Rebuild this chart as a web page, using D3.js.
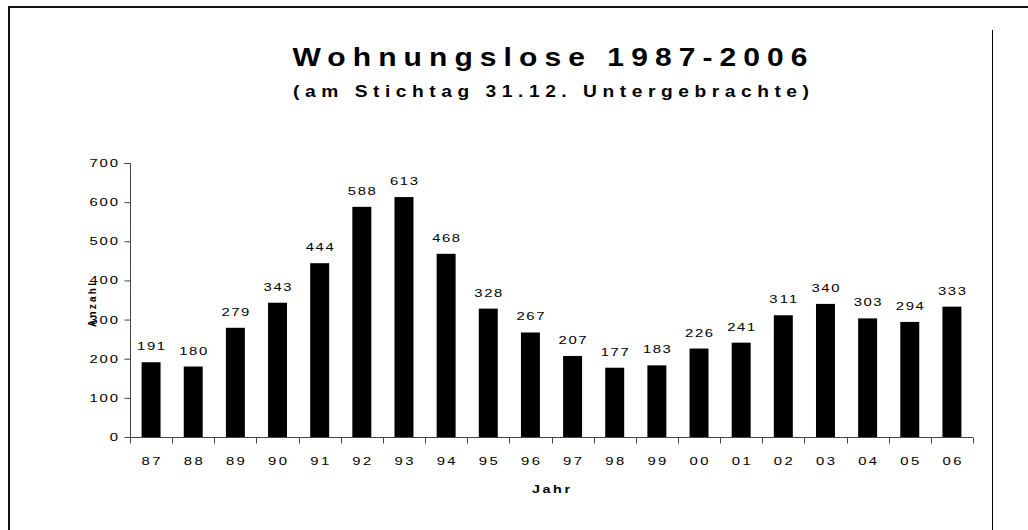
<!DOCTYPE html>
<html>
<head>
<meta charset="utf-8">
<script src="https://cdn.jsdelivr.net/npm/d3@7"></script>
<style>
  body { margin: 0; background: #fff; }
  svg text { font-family: "Liberation Sans", Arial, sans-serif; fill: #000; }
</style>
</head>
<body>
<div id="container"></div>
<script>
let w = 1028;
let h = 530;

// data
let years = ["87","88","89","90","91","92","93","94","95","96","97","98","99","00","01","02","03","04","05","06"];
let counts = [191,180,279,343,444,588,613,468,328,267,207,177,183,226,241,311,340,303,294,333];
let yTicks = [0,100,200,300,400,500,600,700];

let viz = d3.select("#container")
  .append("svg")
    .attr("width", w)
    .attr("height", h)
;

// frame
viz.append("path")
  .attr("d", "M9,530 V7 H1028")
  .attr("fill", "none")
  .attr("stroke", "#111")
  .attr("stroke-width", 2);
viz.append("line")
  .attr("x1", 992.5).attr("x2", 992.5)
  .attr("y1", 30).attr("y2", 530)
  .attr("stroke", "#000").attr("stroke-width", 1);

// scales
let xScale = d3.scaleBand().domain(years).range([130, 973]).paddingInner(0.55).paddingOuter(0.275);
let yScale = d3.scaleLinear().domain([0, 700]).range([437, 163]);

// wide, spread-out text (glyphs stretched by sx, total width len)
function wide(g, str, x, y, len, size, sx, weight, anchor){
  return g.append("text")
    .attr("transform", "translate(" + x + "," + y + ") scale(" + sx + ",1)")
    .attr("text-anchor", anchor || "middle")
    .attr("font-size", size)
    .attr("font-weight", weight || "normal")
    .attr("textLength", len / sx)
    .attr("lengthAdjust", "spacing")
    .text(str);
}

// titles
wide(viz, "Wohnungslose 1987-2006", 550, 66, 515, 25, 1.2, "bold");
wide(viz, "(am Stichtag 31.12. Untergebrachte)", 551, 97, 516, 16, 1.2, "bold");

// y axis
let yAxis = d3.axisLeft(yScale).tickValues(yTicks).tickSize(6).tickFormat("");
let yAxisGroup = viz.append("g").attr("class", "yaxis")
  .attr("transform", "translate(130.5,0)")
  .call(yAxis);
yAxisGroup.select(".domain").attr("stroke", "#444").attr("d", "M-6,163.5 H0 V437.5");
yAxisGroup.selectAll("line").attr("stroke", "#444");
yTicks.forEach(t => {
  wide(viz, String(t), 118, yScale(t) + 4, String(t).length * 9.5, 11, 1.35, "normal", "end");
});

// x axis
let xAxis = d3.axisBottom(xScale).tickSize(0).tickFormat("");
let xAxisGroup = viz.append("g").attr("class", "xaxis")
  .attr("transform", "translate(0,437.5)")
  .call(xAxis);
xAxisGroup.select(".domain").attr("stroke", "#444").attr("d", "M130,0 H973");
years.forEach(yr => {
  wide(viz, yr, xScale(yr) + xScale.bandwidth() / 2, 465, 19, 11, 1.35);
});

// ticks on band edges
let step = xScale.step();
let edges = d3.range(years.length + 1).map(i => 130 + i * step);
xAxisGroup.selectAll(".edge").data(edges).enter().append("line")
  .attr("class", "edge")
  .attr("x1", d => Math.round(d) + 0.5).attr("x2", d => Math.round(d) + 0.5)
  .attr("y1", 0).attr("y2", 6)
  .attr("stroke", "#444");

// axis titles
wide(viz, "Jahr", 551, 493, 38, 11, 1.3, "bold");
viz.append("text")
  .attr("transform", "translate(96,305) rotate(-90)")
  .attr("text-anchor", "middle")
  .attr("font-size", 10)
  .attr("font-weight", "bold")
  .attr("textLength", 44)
  .attr("lengthAdjust", "spacing")
  .text("Anzahl");

// bars
let graphGroup = viz.append("g").classed("graphGroup", true);
graphGroup.selectAll(".bar").data(counts).enter().append("rect")
  .attr("class", "bar")
  .attr("x", (d, i) => xScale(years[i]))
  .attr("y", d => yScale(d))
  .attr("width", xScale.bandwidth())
  .attr("height", d => yScale(0) - yScale(d))
  .attr("fill", "#000");

// value labels
counts.forEach((d, i) => {
  wide(graphGroup, String(d), xScale(years[i]) + xScale.bandwidth() / 2, yScale(d) - 12, 28, 11, 1.35);
});
</script>
</body>
</html>
